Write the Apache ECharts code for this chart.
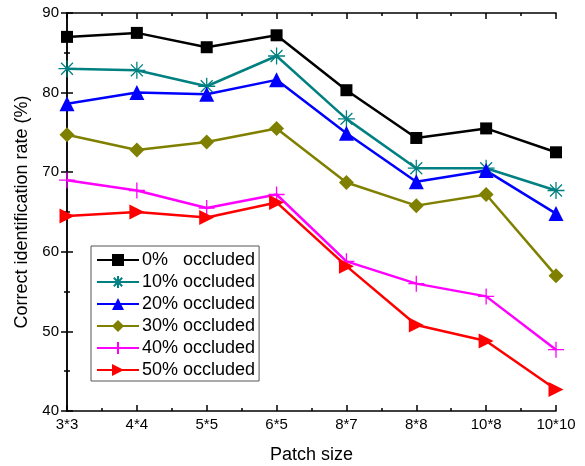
<!DOCTYPE html>
<html lang="en">
<head>
    <meta charset="UTF-8">
    <title>Patch size vs identification rate</title>
    <script src="https://cdn.jsdelivr.net/npm/echarts@6/dist/echarts.min.js"></script>
    <style>
        body { margin: 0; background: #fff; }
        #main { width: 585px; height: 466px; }
    </style>
</head>
<body>
<div id="main"></div>
<script type="text/javascript">
    var categories = ['3*3', '4*4', '5*5', '6*5', '8*7', '8*8', '10*8', '10*10'];
    var occ0  = [87.0, 87.5, 85.7, 87.2, 80.3, 74.3, 75.5, 72.5];
    var occ10 = [83.0, 82.8, 80.8, 84.6, 76.7, 70.5, 70.5, 67.7];
    var occ20 = [78.6, 80.0, 79.8, 81.6, 74.9, 68.8, 70.2, 64.8];
    var occ30 = [74.7, 72.8, 73.8, 75.5, 68.7, 65.8, 67.2, 57.0];
    var occ40 = [69.0, 67.7, 65.5, 67.2, 58.8, 56.0, 54.4, 47.7];
    var occ50 = [64.5, 65.0, 64.3, 66.2, 58.2, 50.8, 48.8, 42.7];
    var yTicks = [40, 50, 60, 70, 80, 90];

    var font = 'Liberation Sans, Arial, sans-serif';

    function pairs(arr) {
        return arr.map(function (v, i) { return [i, v]; });
    }

    var star = 'path://M0,-10 L0,10 M-10,0 L10,0 M-7,-7 L7,7 M-7,7 L7,-7';
    var plus = 'path://M0,-10 L0,10 M-10,0 L10,0';
    var triRight = 'path://M0,0 L10,5 L0,10 Z';

    function mkSeries(name, data, color, symbol, size, stroke) {
        var s = {
            name: name,
            type: 'line',
            data: pairs(data),
            symbol: symbol,
            symbolSize: size,
            lineStyle: { color: color, width: 2.5 },
            itemStyle: { color: color },
            z: 3
        };
        if (stroke) {
            s.itemStyle = { color: 'rgba(0,0,0,0)', borderColor: color, borderWidth: 1.3 };
        }
        return s;
    }

    // shared axis look: black frame, inward ticks
    var tick = { inside: true, length: 6, lineStyle: { color: '#000', width: 1.5 } };
    var minor = { show: true, splitNumber: 2, length: 3, lineStyle: { color: '#000', width: 1.5 } };
    var line = { show: true, lineStyle: { color: '#000', width: 1.5 } };

    var chart = echarts.init(document.getElementById('main'));
    var option = {
        animation: false,
        backgroundColor: '#fff',
        grid: { left: 67, right: 29, top: 13, bottom: 55, outerBoundsMode: 'none' },
        legend: {
            orient: 'vertical',
            left: 91,
            top: 246,
            padding: [5, 4, 2, 5],
            itemWidth: 42,
            itemHeight: 15,
            itemGap: 4,
            backgroundColor: '#fff',
            borderColor: '#555',
            borderWidth: 1,
            borderRadius: 0,
            textStyle: { fontFamily: font, fontSize: 18, lineHeight: 18, color: '#000', padding: [0, 0, 0, -2] },
            data: ['0%   occluded', '10% occluded', '20% occluded', '30% occluded', '40% occluded', '50% occluded']
        },
        xAxis: [{
            type: 'value',
            min: 0,
            max: categories.length - 1,
            interval: 1,
            name: 'Patch size',
            nameLocation: 'middle',
            nameGap: 35,
            nameTextStyle: { fontFamily: font, fontSize: 18, color: '#000' },
            axisLine: line,
            axisTick: tick,
            minorTick: minor,
            splitLine: { show: false },
            axisLabel: {
                fontFamily: font, fontSize: 15, color: '#000', margin: 6,
                formatter: function (v) { return categories[v] || ''; }
            }
        }, {
            type: 'value',
            position: 'top',
            min: 0,
            max: categories.length - 1,
            interval: 1,
            axisLine: line,
            axisTick: tick,
            minorTick: minor,
            splitLine: { show: false },
            axisLabel: { show: false }
        }],
        yAxis: [{
            type: 'value',
            min: yTicks[0],
            max: yTicks[yTicks.length - 1],
            interval: 10,
            name: 'Correct identification rate (%)',
            nameLocation: 'middle',
            nameGap: 33,
            nameTextStyle: { fontFamily: font, fontSize: 18, color: '#000' },
            axisLine: line,
            axisTick: tick,
            minorTick: minor,
            splitLine: { show: false },
            axisLabel: { fontFamily: font, fontSize: 15, color: '#000', margin: 8 }
        }, {
            type: 'value',
            position: 'right',
            min: yTicks[0],
            max: yTicks[yTicks.length - 1],
            interval: 10,
            axisLine: line,
            axisTick: tick,
            minorTick: minor,
            splitLine: { show: false },
            axisLabel: { show: false }
        }],
        series: [
            mkSeries('0%   occluded', occ0, '#000000', 'rect', 12),
            mkSeries('10% occluded', occ10, '#008080', star, 17, true),
            mkSeries('20% occluded', occ20, '#0000ff', 'triangle', 15),
            mkSeries('30% occluded', occ30, '#808000', 'diamond', 15),
            mkSeries('40% occluded', occ40, '#ff00ff', plus, 16, true),
            mkSeries('50% occluded', occ50, '#ff0000', triRight, 15)
        ]
    };
    chart.setOption(option);
</script>
</body>
</html>
